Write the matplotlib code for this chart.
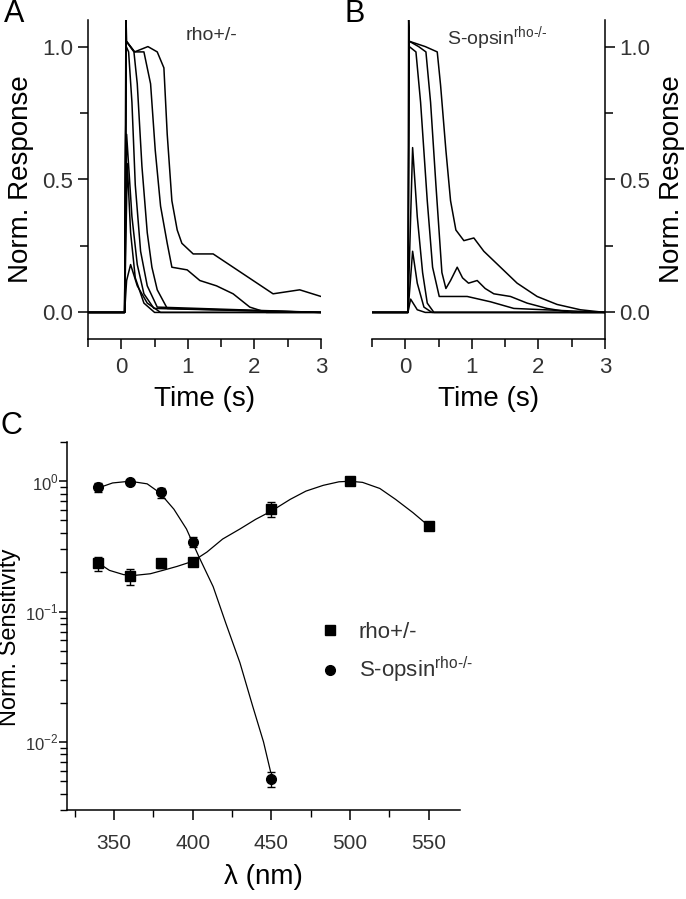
import matplotlib
matplotlib.use('Agg')
import matplotlib.pyplot as plt
from matplotlib.lines import Line2D
from matplotlib.ticker import MultipleLocator, FixedLocator, NullFormatter

plt.rcParams['font.family'] = ['Liberation Sans', 'DejaVu Sans']
plt.rcParams['mathtext.fontset'] = 'custom'
plt.rcParams['mathtext.rm'] = 'Liberation Sans'

# panel A traces (rho+/-), time in s, normalized response
a_t = [
    [-0.5, 0.05, 0.08, 0.14, 0.24, 0.39, 0.59, 3.0],
    [-0.5, 0.05, 0.09, 0.14, 0.21, 0.34, 0.5, 3.0],
    [-0.5, 0.05, 0.08, 0.16, 0.24, 0.34, 0.49, 3.0],
    [-0.5, 0.05, 0.075, 0.11, 0.16, 0.21, 0.29, 0.39, 0.54, 3.0],
    [-0.5, 0.05, 0.075, 0.19, 0.24, 0.31, 0.39, 0.46, 0.54, 0.69, 3.0],
    [-0.5, 0.05, 0.075, 0.2, 0.34, 0.44, 0.51, 0.59, 0.69, 0.76, 0.99, 1.18, 1.43, 1.68, 1.93, 2.18, 3.0],
    [-0.5, 0.05, 0.07, 0.08, 0.2, 0.4, 0.54, 0.64, 0.69, 0.76, 0.84, 0.91, 1.08, 1.38, 1.68, 1.98, 2.28, 2.68, 3.0],
]
a_v = [
    [0, 0, 0.12, 0.18, 0.10, 0.035, 0, 0],
    [0, 0, 0.56, 0.30, 0.13, 0.035, 0, 0],
    [0, 0, 0.67, 0.36, 0.18, 0.07, 0.015, 0],
    [0, 0, 1.0, 0.98, 0.79, 0.48, 0.23, 0.10, 0.02, 0],
    [0, 0, 1.02, 0.98, 0.86, 0.55, 0.30, 0.17, 0.085, 0.015, 0],
    [0, 0, 1.02, 0.98, 0.98, 0.86, 0.61, 0.40, 0.26, 0.17, 0.16, 0.12, 0.10, 0.07, 0.02, 0, 0],
    [0, 0, 1.12, 1.02, 0.98, 1.0, 0.98, 0.92, 0.67, 0.42, 0.31, 0.26, 0.22, 0.22, 0.17, 0.12, 0.07, 0.085, 0.06],
]

# panel B traces (S-opsin rho-/-)
b_t = [
    [-0.5, 0.04, 0.08, 0.18, 0.3, 3.0],
    [-0.5, 0.04, 0.11, 0.18, 0.28, 0.4, 3.0],
    [-0.5, 0.04, 0.11, 0.18, 0.26, 0.33, 0.43, 3.0],
    [-0.5, 0.04, 0.06, 0.16, 0.23, 0.33, 0.41, 0.51, 0.63, 0.93, 1.28, 1.63, 3.0],
    [-0.5, 0.04, 0.06, 0.2, 0.31, 0.38, 0.46, 0.55, 0.61, 0.68, 0.78, 0.86, 0.95, 1.08, 1.2, 1.33, 1.58, 1.83, 2.13, 2.5, 3.0],
    [-0.5, 0.04, 0.05, 0.06, 0.3, 0.48, 0.53, 0.61, 0.68, 0.76, 0.88, 1.03, 1.18, 1.43, 1.68, 1.98, 2.28, 2.63, 3.0],
]
b_v = [
    [0, 0, 0.05, 0.01, 0, 0],
    [0, 0, 0.23, 0.11, 0.02, 0, 0],
    [0, 0, 0.62, 0.36, 0.15, 0.035, 0, 0],
    [0, 0, 1.0, 0.98, 0.79, 0.42, 0.17, 0.06, 0.06, 0.06, 0.04, 0.015, 0],
    [0, 0, 1.02, 1.0, 0.98, 0.79, 0.48, 0.15, 0.09, 0.12, 0.17, 0.13, 0.11, 0.12, 0.09, 0.07, 0.06, 0.035, 0.015, 0, 0],
    [0, 0, 1.11, 1.02, 1.0, 0.98, 0.855, 0.61, 0.42, 0.31, 0.27, 0.28, 0.23, 0.17, 0.11, 0.06, 0.03, 0.01, 0],
]

# panel C: spectral sensitivity
wl_rho = [340, 360, 380, 400, 450, 500, 550]
sens_rho = [0.234, 0.186, 0.234, 0.24, 0.61, 1.0, 0.455]
err_rho = [0.028, 0.025, 0.018, 0.01, 0.08, 0.02, 0.02]
wl_sop = [340, 360, 380, 400, 450]
sens_sop = [0.90, 0.99, 0.82, 0.344, 0.0052]
err_sop = [0.07, 0.03, 0.07, 0.03, 0.0007]

# fitted curves
fit_rho_x = [339, 347, 356, 364, 373, 381, 390, 400, 409, 419, 430, 440, 450, 462, 472, 483, 493, 500, 508, 519, 529, 540, 550]
fit_rho_y = [0.24, 0.207, 0.192, 0.19, 0.195, 0.207, 0.222, 0.243, 0.286, 0.36, 0.43, 0.51, 0.59, 0.726, 0.84, 0.93, 0.99, 1.0, 0.98, 0.88, 0.726, 0.575, 0.455]
fit_sop_x = [339, 349, 360, 371, 379, 388, 396, 404, 413, 421, 430, 438, 445, 449.5]
fit_sop_y = [0.88, 0.97, 1.0, 0.955, 0.815, 0.61, 0.43, 0.262, 0.155, 0.0815, 0.0405, 0.019, 0.01, 0.0059]

TICK_COLOR = '#333333'

fig = plt.figure(figsize=(6.86, 8.99), dpi=100)

def style_trace_axes(ax, side):
    ax.set_xlim(-0.5, 3)
    ax.set_ylim(-0.1, 1.1)
    ax.spines['top'].set_visible(False)
    other = 'right' if side == 'left' else 'left'
    ax.spines[other].set_visible(False)
    for s in ('bottom', side):
        ax.spines[s].set_linewidth(1.1)
    ax.xaxis.set_major_locator(FixedLocator([0, 1, 2, 3]))
    ax.xaxis.set_minor_locator(FixedLocator([-0.5, 0.5, 1.5, 2.5]))
    ax.yaxis.set_major_locator(FixedLocator([0, 0.5, 1.0]))
    ax.yaxis.set_minor_locator(FixedLocator([0.25, 0.75]))
    ax.set_yticklabels(['0.0', '0.5', '1.0'])
    if side == 'right':
        ax.yaxis.tick_right()
        ax.yaxis.set_label_position('right')
    ax.tick_params(which='major', length=7, width=1.1, labelsize=16, labelcolor=TICK_COLOR)
    ax.tick_params(axis='x', pad=6)
    ax.tick_params(which='minor', length=6, width=1.1)
    ax.set_xlabel('Time (s)', fontsize=20, labelpad=6)
    ax.set_ylabel('Norm. Response', fontsize=20, labelpad=6)

axA = fig.add_axes([88 / 686, 1 - 339 / 899, 233 / 686, 319 / 899])
for t, v in zip(a_t, a_v):
    axA.plot(t, v, color='black', lw=1.1)
style_trace_axes(axA, 'left')
axA.text(0.42, 0.95, 'rho+/-', transform=axA.transAxes, fontsize=14,
         color=TICK_COLOR, ha='left', va='center')

axB = fig.add_axes([372 / 686, 1 - 339 / 899, 233 / 686, 319 / 899])
for t, v in zip(b_t, b_v):
    axB.plot(t, v, color='black', lw=1.1)
style_trace_axes(axB, 'right')
axB.text(0.32, 0.94, r'S-opsin$^{\mathrm{rho\text{-}/\text{-}}}$', transform=axB.transAxes,
         fontsize=14, color=TICK_COLOR, ha='left', va='center')

axC = fig.add_axes([67 / 686, 1 - 810 / 899, 393 / 686, 368 / 899])
axC.plot(fit_rho_x, fit_rho_y, color='black', lw=0.9)
axC.plot(fit_sop_x, fit_sop_y, color='black', lw=0.9)
axC.errorbar(wl_rho, sens_rho, yerr=err_rho, fmt='s', color='black', ms=6.5,
             capsize=3, elinewidth=1, capthick=1)
axC.errorbar(wl_sop, sens_sop, yerr=err_sop, fmt='o', color='black', ms=7,
             capsize=3, elinewidth=1, capthick=1)
axC.set_yscale('log')
axC.set_xlim(320, 570)
axC.set_ylim(3e-3, 2)
axC.xaxis.set_major_locator(MultipleLocator(50))
axC.xaxis.set_minor_locator(MultipleLocator(25))
axC.yaxis.set_major_locator(FixedLocator([1e-2, 1e-1, 1]))
axC.set_yticklabels([r'$10^{\mathrm{-2}}$', r'$10^{\mathrm{-1}}$', r'$10^{0}$'])
axC.yaxis.set_minor_formatter(NullFormatter())
axC.spines['top'].set_visible(False)
axC.spines['right'].set_visible(False)
for s in ('bottom', 'left'):
    axC.spines[s].set_linewidth(1.1)
axC.tick_params(which='major', length=7, width=1.1, labelsize=15, labelcolor=TICK_COLOR)
axC.tick_params(which='minor', length=5, width=1.0)
axC.tick_params(axis='x', pad=10)
axC.tick_params(axis='y', which='major', length=6, labelsize=12, pad=0)
axC.set_xlabel('λ (nm)', fontsize=20, labelpad=8)
axC.set_ylabel('Norm. Sensitivity', fontsize=17)
axC.yaxis.set_label_coords(-0.116, 0.47)

handles = [Line2D([], [], marker='s', ls='none', color='black', ms=6.5),
           Line2D([], [], marker='o', ls='none', color='black', ms=7)]
axC.legend(handles, ['rho+/-', r'S-opsin$^{\mathrm{rho\text{-}/\text{-}}}$'],
           loc='center left', bbox_to_anchor=(0.612, 0.425), frameon=False,
           fontsize=16, handlelength=1.0, handletextpad=0.8, labelspacing=0.55,
           borderpad=0, labelcolor=TICK_COLOR)

fig.text(4 / 686, 1 - 14 / 899, 'A', fontsize=22, ha='left', va='center')
fig.text(344 / 686, 1 - 14 / 899, 'B', fontsize=22, ha='left', va='center')
fig.text(1 / 686, 1 - 426 / 899, 'C', fontsize=22, ha='left', va='center')

fig.savefig('out.png', dpi=100)
